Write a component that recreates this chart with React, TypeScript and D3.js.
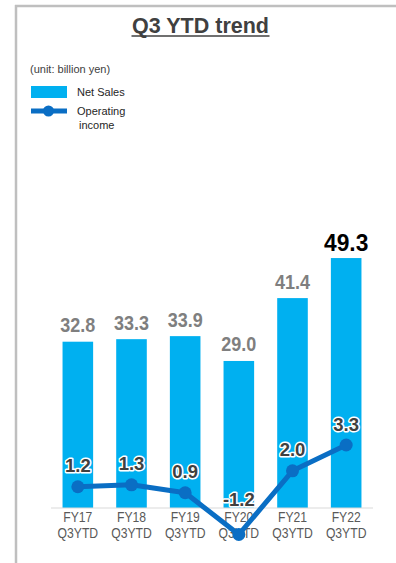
import React from "react";
import * as d3 from "d3";

const categories = ["FY17", "FY18", "FY19", "FY20", "FY21", "FY22"];
const categorySub = ["Q3YTD", "Q3YTD", "Q3YTD", "Q3YTD", "Q3YTD", "Q3YTD"];
const netSales = [32.8, 33.3, 33.9, 29.0, 41.4, 49.3];
const operatingIncome = [1.2, 1.3, 0.9, -1.2, 2.0, 3.3];

const FONT = "'Liberation Sans', Arial, sans-serif";
const BAR = "#00b0f0";
const LINE = "#0a6ec4";

export default function App() {
  const W = 396, H = 563;
  const x = d3.scaleBand<string>().domain(categories).range([51, 373]).paddingInner(0.43).paddingOuter(0.215);
  const yBar = d3.scaleLinear().domain([0, 50]).range([508, 254.5]);
  const yLine = d3.scaleLinear().domain([-2, 4]).range([550.4, 431.1]);
  const cx = (c: string) => (x(c) as number) + x.bandwidth() / 2;
  const pts = categories.map((c, i) => ({ c, v: operatingIncome[i] }));
  const line = d3.line<{ c: string; v: number }>().x(d => cx(d.c)).y(d => yLine(d.v));
  const last = categories.length - 1;

  return (
    <svg width={W} height={H} style={{ position: "absolute", left: 0, top: 0, background: "#fff" }} fontFamily={FONT}>
      {/* frame */}
      <line x1={15} x2={W} y1={6} y2={6} stroke="#bfbfbf" strokeWidth={2.5} />
      <line x1={16} x2={16} y1={5} y2={H} stroke="#bfbfbf" strokeWidth={2.5} />

      {/* title */}
      <text x={200.5} y={33} textAnchor="middle" fontSize={21.5} fontWeight="bold" fill="#404040">Q3 YTD trend</text>
      <line x1={131.5} x2={269.5} y1={36} y2={36} stroke="#404040" strokeWidth={1.5} />

      {/* legend */}
      <text x={30} y={73} fontSize={11} fill="#404040">(unit: billion yen)</text>
      <rect x={31} y={86} width={36} height={12} fill={BAR} />
      <text x={77} y={95.5} fontSize={11} fill="#262626">Net Sales</text>
      <line x1={31} x2={67} y1={111} y2={111} stroke={LINE} strokeWidth={5} />
      <circle cx={48.5} cy={111} r={5.5} fill={LINE} />
      <text x={77} y={115} fontSize={11} fill="#262626">Operating</text>
      <text x={79} y={129} fontSize={11} fill="#262626">income</text>

      {/* bars */}
      {categories.map((c, i) => (
        <rect key={c} x={x(c)} y={yBar(netSales[i])} width={x.bandwidth()} height={yBar(0) - yBar(netSales[i])} fill={BAR} />
      ))}

      {/* axis line */}
      <line x1={51} x2={373} y1={yBar(0)} y2={yBar(0)} stroke="#d9d9d9" strokeWidth={1} />

      {/* category labels */}
      {categories.map((c, i) => (
        <g key={c} transform={`translate(${cx(c)},0) scale(0.84,1)`}>
          <text x={0} y={522.5} textAnchor="middle" fontSize={14.5} fill="#595959">{c}</text>
          <text x={0} y={538.5} textAnchor="middle" fontSize={14.5} fill="#595959">{categorySub[i]}</text>
        </g>
      ))}

      {/* net sales labels */}
      {categories.map((c, i) => (
        i === last ? (
          <g key={c} transform={`translate(${cx(c)},${yBar(netSales[i]) - 7}) scale(0.95,1)`}>
            <text x={0} y={0} textAnchor="middle" fontSize={24} fontWeight="bold" fill="#000">{netSales[i].toFixed(1)}</text>
          </g>
        ) : (
          <g key={c} transform={`translate(${cx(c)},${yBar(netSales[i]) - 9.5}) scale(0.9,1)`}>
            <text x={0} y={0} textAnchor="middle" fontSize={20} fontWeight="bold" fill="#7f7f7f">{netSales[i].toFixed(1)}</text>
          </g>
        )
      ))}

      {/* operating income line */}
      <path d={line(pts) || ""} fill="none" stroke={LINE} strokeWidth={5} strokeLinejoin="round" />
      {pts.map(p => (
        <circle key={p.c} cx={cx(p.c)} cy={yLine(p.v)} r={6.5} fill={LINE} />
      ))}
      {pts.map(p => (
        <text key={p.c} x={cx(p.c)} y={p.v < 0 ? yLine(0) - 4.5 : yLine(p.v) - 14.5} textAnchor="middle" fontSize={18.5} fontWeight="bold"
          fill="#404040" stroke="#fff" strokeWidth={3} paintOrder="stroke" strokeLinejoin="round">{p.v.toFixed(1)}</text>
      ))}
    </svg>
  );
}
